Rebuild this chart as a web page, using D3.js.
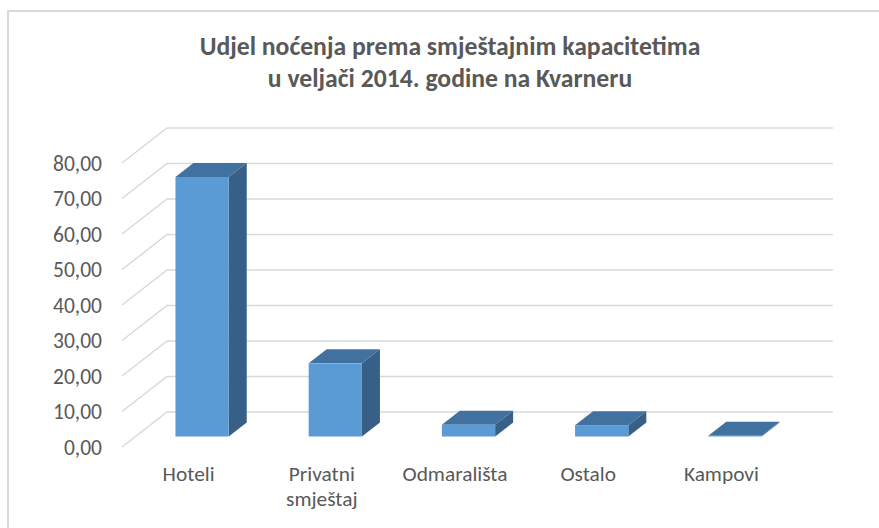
<!DOCTYPE html>
<html>
<head>
<meta charset="utf-8">
<script src="https://cdn.jsdelivr.net/npm/d3@7"></script>
<style>
  body { margin: 0; background: #fff; }
  svg { display: block; font-family: Carlito, Calibri, Lato, sans-serif; }
</style>
</head>
<body>
<svg id="chart" width="879" height="528"></svg>
<script>
const categories = ['Hoteli', 'Privatni smještaj', 'Odmarališta', 'Ostalo', 'Kampovi'];
const values = [73.1, 20.6, 3.3, 3.2, 0.2];
const ticks = [0, 10, 20, 30, 40, 50, 60, 70, 80];
const titleLines = ['Udjel noćenja prema smještajnim kapacitetima', 'u veljači 2014. godine na Kvarneru'];

const svg = d3.select('#chart');

// 3d depth of the side wall / floor
const depthX = 45, depthY = 35;
const barFront = 0.3, barBack = 0.7;

const x = d3.scaleBand().domain(categories).range([122, 788]).paddingInner(0.6).paddingOuter(0.3);
const y = d3.scaleLinear().domain([0, 80]).range([447, 163]);
const fmt = v => d3.format('.2f')(v).replace('.', ',');

// size a font so that a sample string has the width seen in the reference
function fitSize(sample, target, weight) {
  const t = svg.append('text').attr('font-size', 20).attr('font-weight', weight || 'normal').text(sample);
  const w = t.node().getComputedTextLength();
  t.remove();
  return 20 * target / w;
}
const titleSize = fitSize(titleLines[0], 501, 'bold');
const labelSize = fitSize('80,00', 49);
const catSize = fitSize('Hoteli', 52);

// chart frame
svg.append('path')
  .attr('d', 'M8,528 V11 H879')
  .attr('fill', 'none')
  .attr('stroke', '#d9d9d9')
  .attr('stroke-width', 2);

// title
svg.append('text')
  .attr('text-anchor', 'middle')
  .attr('fill', '#595959')
  .attr('font-weight', 'bold')
  .attr('font-size', titleSize)
  .selectAll('tspan')
  .data(titleLines)
  .enter()
  .append('tspan')
  .attr('x', 450)
  .attr('y', (d, i) => 55 + i * 32)
  .text(d => d);

// gridlines: diagonal on side wall + horizontal on back wall
const grid = svg.append('g').attr('stroke', '#d9d9d9').attr('stroke-width', 1.5).attr('fill', 'none');
grid.selectAll('path')
  .data(ticks)
  .enter()
  .append('path')
  .attr('d', d => `M${x.range()[0]},${y(d)} L${x.range()[0] + depthX},${y(d) - depthY} H${x.range()[1] + depthX}`);

// y labels
svg.append('g').selectAll('text')
  .data(ticks)
  .enter()
  .append('text')
  .attr('x', 102)
  .attr('y', d => y(d))
  .attr('dy', '0.35em')
  .attr('text-anchor', 'end')
  .attr('fill', '#595959')
  .attr('font-size', labelSize)
  .text(d => fmt(d));

// x labels
const xl = svg.append('g').selectAll('text')
  .data(categories)
  .enter()
  .append('text')
  .attr('text-anchor', 'middle')
  .attr('fill', '#595959')
  .attr('font-size', catSize);
xl.each(function (d) {
  const words = d.split(' ');
  const cx = x(d) + x.bandwidth() / 2;
  d3.select(this).selectAll('tspan')
    .data(words)
    .enter()
    .append('tspan')
    .attr('x', cx)
    .attr('y', (w, i) => 481 + i * 25)
    .text(w => w);
});

// bars
const bars = svg.append('g').selectAll('g')
  .data(categories.map((c, i) => ({ cat: c, value: values[i] })))
  .enter()
  .append('g');

function pt(px, py, f) { return [px + depthX * f, py - depthY * f]; }

bars.each(function (d) {
  const g = d3.select(this);
  const x0 = x(d.cat), x1 = x0 + x.bandwidth();
  const y0 = y(0), y1 = y(d.value);
  const line = d3.line();
  // top face
  g.append('path')
    .attr('d', line([pt(x0, y1, barFront), pt(x1, y1, barFront), pt(x1, y1, barBack), pt(x0, y1, barBack)]) + 'Z')
    .attr('fill', '#41729f');
  // side face
  g.append('path')
    .attr('d', line([pt(x1, y0, barFront), pt(x1, y1, barFront), pt(x1, y1, barBack), pt(x1, y0, barBack)]) + 'Z')
    .attr('fill', '#386087');
  // front face
  const a = pt(x0, y1, barFront), b = pt(x1, y0, barFront);
  g.append('rect')
    .attr('x', a[0])
    .attr('y', a[1])
    .attr('width', b[0] - a[0])
    .attr('height', Math.max(0, b[1] - a[1]))
    .attr('fill', '#5b9bd5');
});
</script>
</body>
</html>
